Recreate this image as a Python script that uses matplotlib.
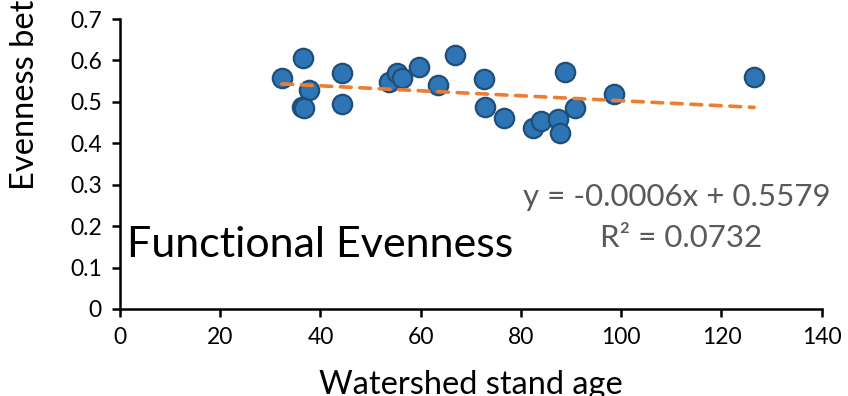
import numpy as np
import matplotlib.pyplot as plt

plt.rcParams['font.family'] = ['Lato', 'DejaVu Sans']

# stand age of each watershed and functional evenness
stand_age = [32.3, 36.5, 37.7, 36.3, 36.8, 44.3, 44.2, 53.7, 55.3, 56.2,
             59.6, 63.5, 66.8, 72.6, 72.9, 76.6, 82.3, 83.9, 87.3, 87.7,
             88.8, 90.8, 98.6, 126.5]
evenness = [0.557, 0.605, 0.528, 0.487, 0.485, 0.570, 0.496, 0.548, 0.569, 0.558,
            0.583, 0.541, 0.613, 0.555, 0.487, 0.460, 0.436, 0.455, 0.459, 0.425,
            0.573, 0.484, 0.518, 0.559]

eq_text = 'y = -0.0006x + 0.5579'
r2_text = 'R² = 0.0732'

fig = plt.figure(figsize=(8.48, 3.96), dpi=100)
ax = fig.add_axes([0.1415, 0.2197, 0.8275, 0.7323])

ax.scatter(stand_age, evenness, s=195, color='#2E75B6', edgecolor='#1F4E79',
           linewidth=1.6, zorder=3)

# linear trendline
slope, intercept = np.polyfit(stand_age, evenness, 1)
xs = np.array([min(stand_age), max(stand_age)])
ax.plot(xs, slope * xs + intercept, color='#ED7D31', lw=2.6,
        dashes=(3, 2.4), dash_capstyle='round', zorder=4)

ax.set_xlim(0, 140)
ax.set_ylim(0, 0.7)
ax.set_xticks(range(0, 141, 20))
ax.set_yticks(np.arange(0, 0.71, 0.1))
ax.set_yticklabels(['0', '0.1', '0.2', '0.3', '0.4', '0.5', '0.6', '0.7'])
for s in ['top', 'right']:
    ax.spines[s].set_visible(False)
for s in ['left', 'bottom']:
    ax.spines[s].set_linewidth(1.8)
ax.tick_params(width=1.8, length=6, labelsize=16.5, colors='black', pad=7)

ax.text(1.012, 0.385, eq_text, transform=ax.transAxes, ha='right', va='center',
        fontsize=22.5, color='#595959')
ax.text(0.80, 0.245, r2_text, transform=ax.transAxes, ha='center', va='center',
        fontsize=22.5, color='#595959')
ax.text(0.010, 0.22, 'Functional Evenness', transform=ax.transAxes,
        ha='left', va='center', fontsize=31, color='black')

fig.text(0.5555, 1 - 370 / 396, 'Watershed stand age', ha='center', va='top',
         fontsize=23.5)
fig.text(0.03, 1 - 190 / 396, 'Evenness between watersheds', rotation=90,
         ha='center', va='bottom', fontsize=23.5)

fig.savefig('out.png', dpi=100)
